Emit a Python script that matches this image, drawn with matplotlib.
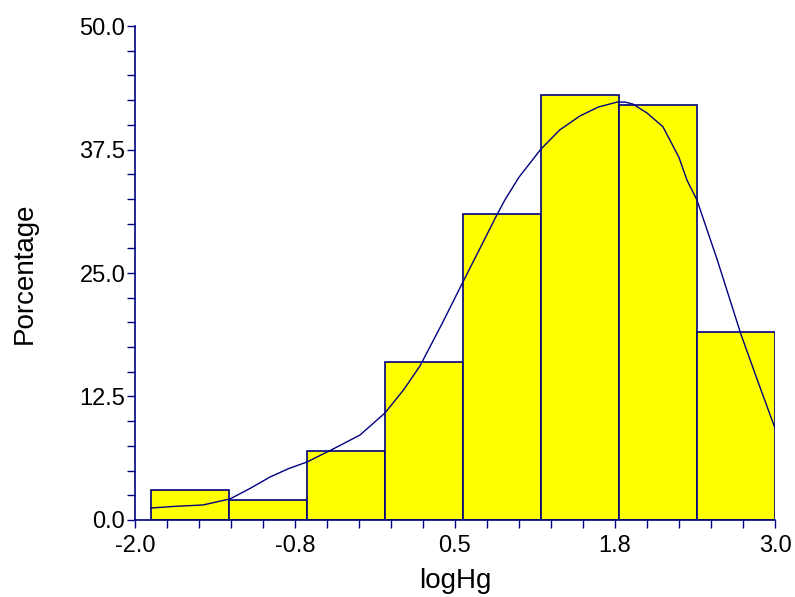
import matplotlib
matplotlib.use('Agg')
import matplotlib.pyplot as plt
from matplotlib.ticker import MultipleLocator, FixedLocator

plt.rcParams['font.family'] = ['Liberation Sans', 'DejaVu Sans']

# histogram of logHg (percentage per bin)
bin_left = [-1.875, -1.265625, -0.65625, -0.046875, 0.5625, 1.171875, 1.78125, 2.390625]
bin_width = 0.609375
percent = [3, 2, 7, 16, 31, 43, 42, 19]

# density curve
curve_x = [-1.875, -1.7, -1.469, -1.258, -1.1, -0.945, -0.8, -0.656, -0.45, -0.242,
           -0.047, 0.1, 0.227, 0.4, 0.5625, 0.68, 0.828, 0.89, 1.0, 1.172, 1.32, 1.477,
           1.62, 1.766, 1.83, 1.89, 2.0, 2.125, 2.25, 2.3125, 2.39, 2.55, 2.734,
           2.87, 3.0]
curve_y = [1.21, 1.37, 1.52, 2.13, 3.2, 4.35, 5.2, 5.87, 7.2, 8.60,
           10.83, 13.2, 15.6, 19.9, 24.1, 27.1, 30.9, 32.4, 34.7, 37.55, 39.5, 40.9,
           41.8, 42.3, 42.3, 42.1, 41.2, 39.8, 36.7, 34.4, 32.4, 26.3, 18.8,
           13.9, 9.3]

xtick_pos = [-2.0, -0.75, 0.5, 1.75, 3.0]
xtick_labels = ['-2.0', '-0.8', '0.5', '1.8', '3.0']
ytick_pos = [0.0, 12.5, 25.0, 37.5, 50.0]
ytick_labels = ['0.0', '12.5', '25.0', '37.5', '50.0']

navy = '#000080'

fig = plt.figure(figsize=(7.95, 5.97), dpi=100)
ax = fig.add_axes([0.1698, 0.129, 0.805, 0.8274])

ax.bar(bin_left, percent, width=bin_width, align='edge', color='#ffff00',
       edgecolor=navy, linewidth=1.2, zorder=2)
ax.plot(curve_x, curve_y, color=navy, linewidth=1.0, zorder=3)

ax.set_xlim(-2.0, 3.0)
ax.set_ylim(0, 50)
ax.xaxis.set_major_locator(FixedLocator(xtick_pos))
ax.set_xticklabels(xtick_labels)
ax.xaxis.set_minor_locator(MultipleLocator(0.25))
ax.yaxis.set_major_locator(FixedLocator(ytick_pos))
ax.set_yticklabels(ytick_labels)
ax.yaxis.set_minor_locator(MultipleLocator(2.5))

for s in ['top', 'right']:
    ax.spines[s].set_visible(False)
for s in ['left', 'bottom']:
    ax.spines[s].set_color(navy)
    ax.spines[s].set_linewidth(1.2)

ax.tick_params(which='both', direction='out', color=navy, length=6, width=1.0,
               labelsize=17, labelcolor='black')
ax.tick_params(axis='x', pad=5)
ax.tick_params(axis='y', pad=1)

ax.set_xlabel('logHg', fontsize=20, labelpad=8)
ax.set_ylabel('Porcentage', fontsize=20, labelpad=30)

fig.savefig('out.png', dpi=100)
